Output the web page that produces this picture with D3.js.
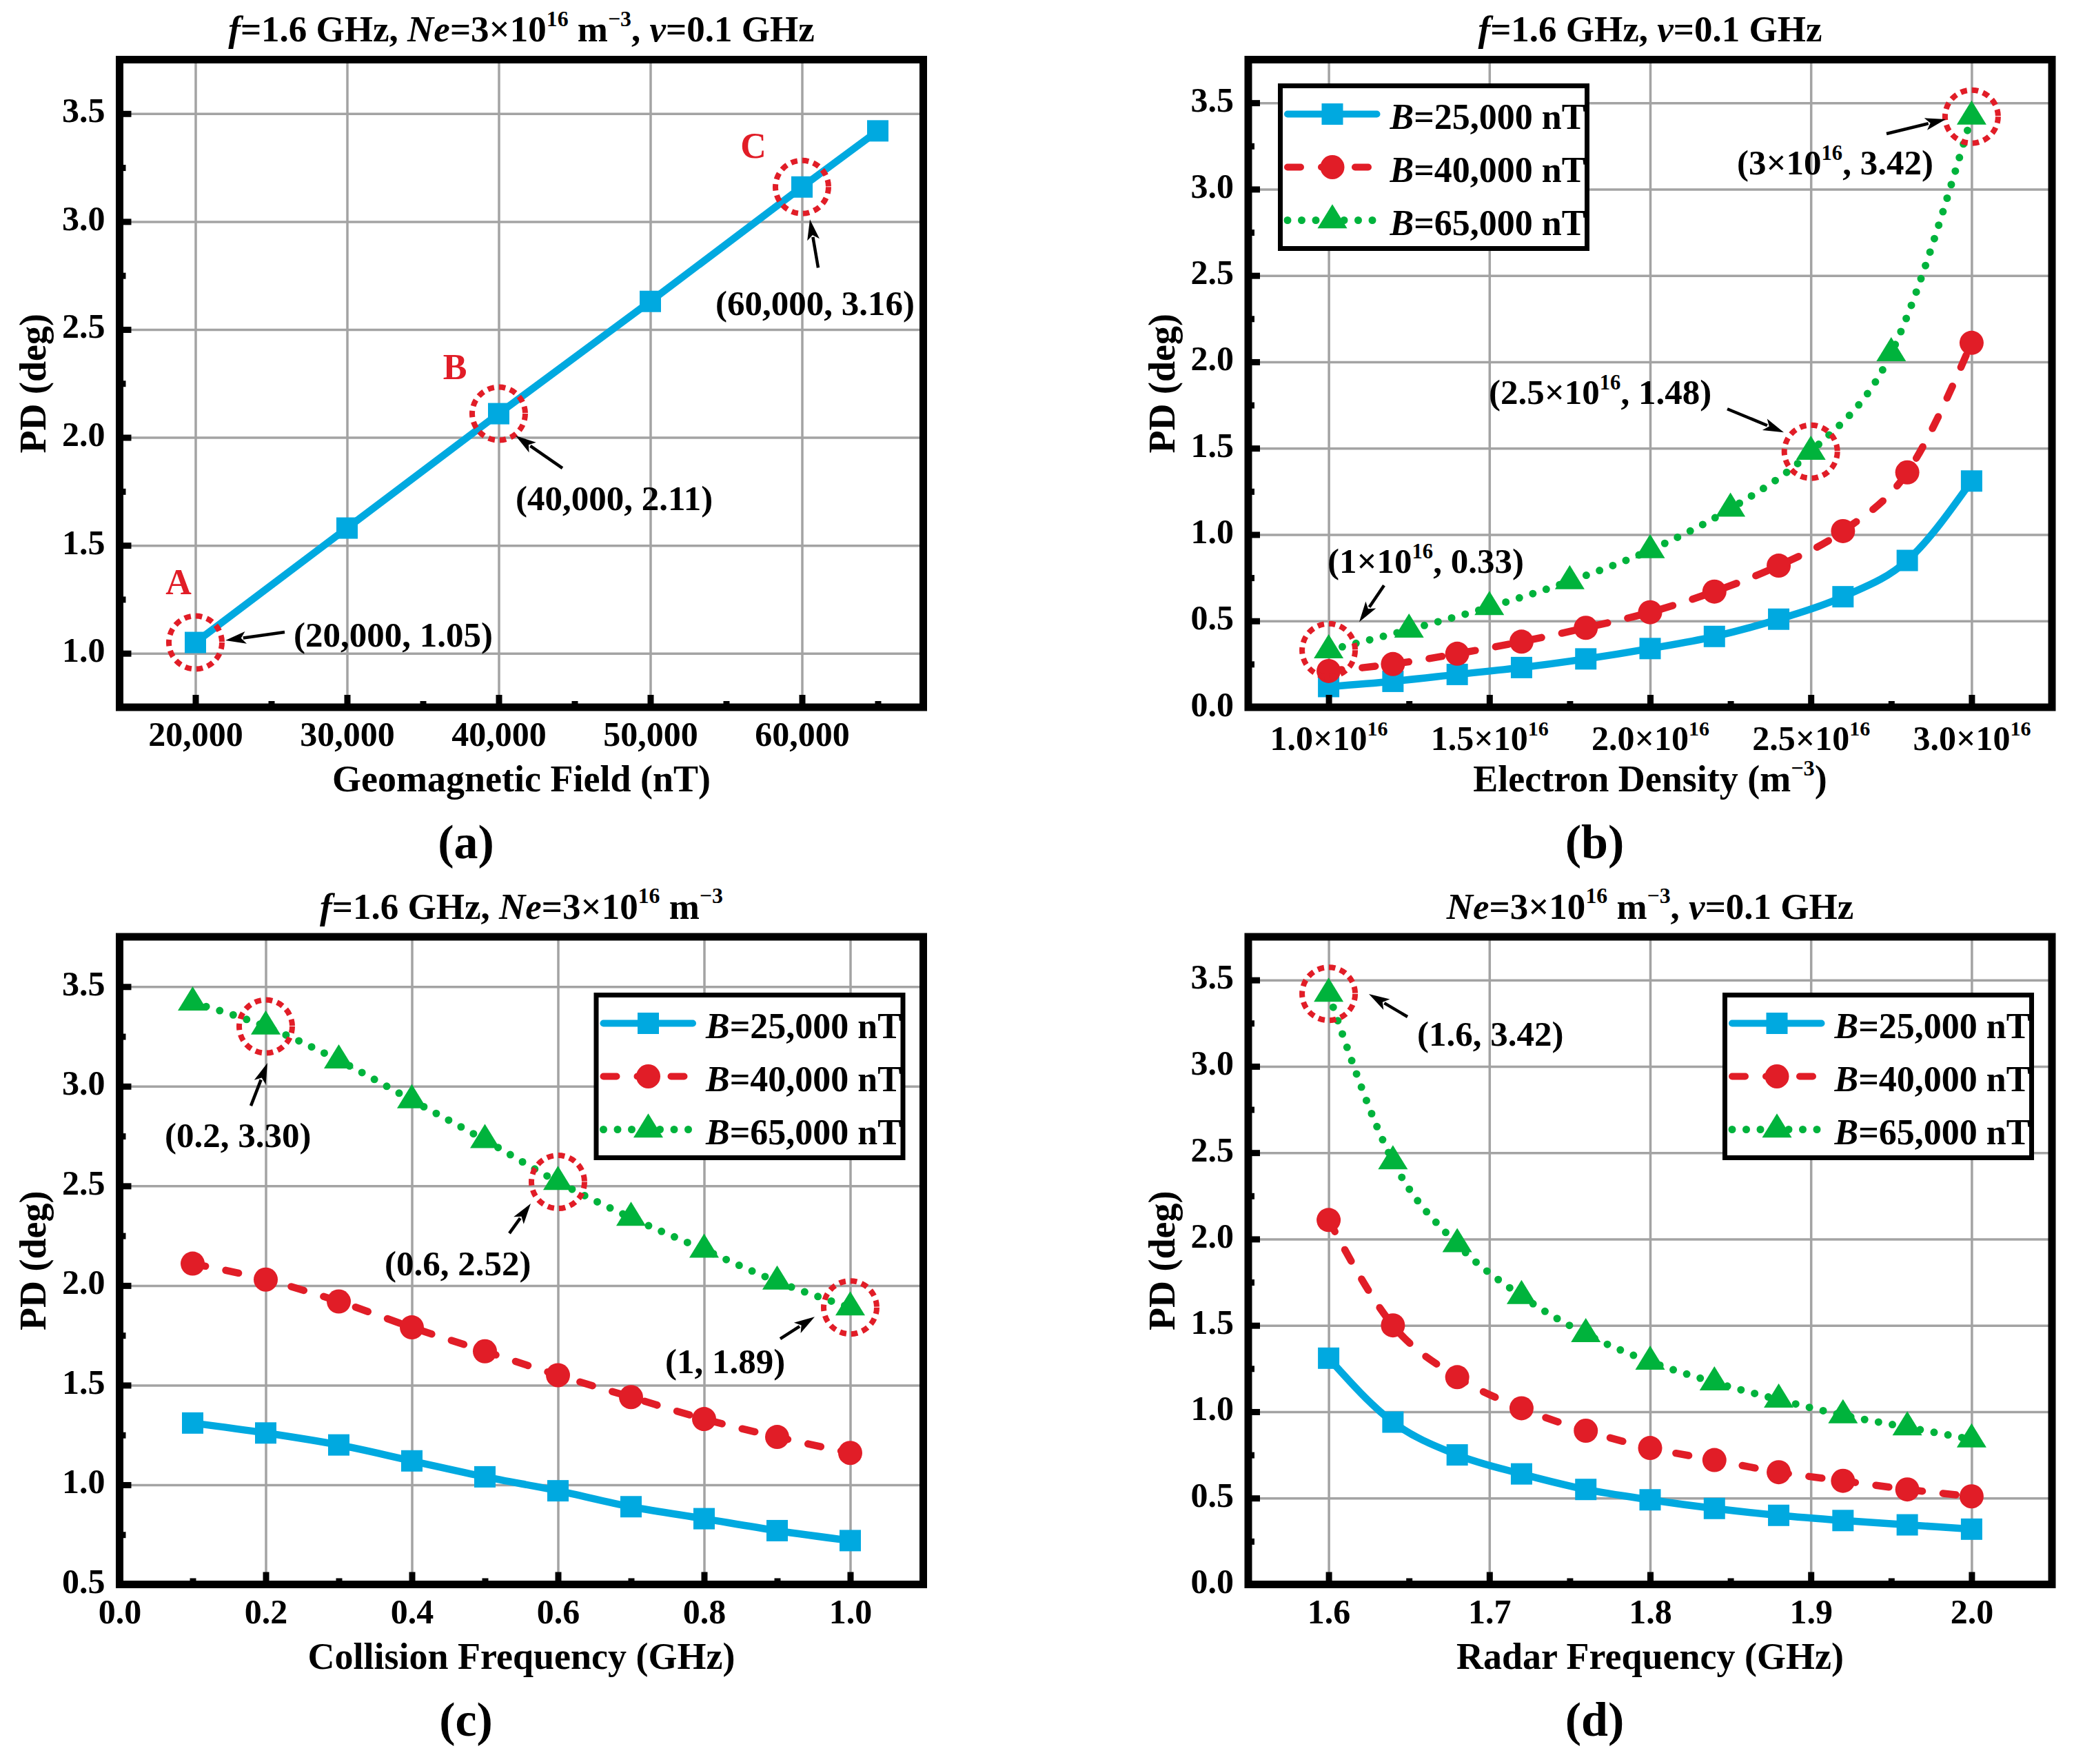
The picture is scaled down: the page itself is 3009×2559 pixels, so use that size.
<!DOCTYPE html>
<html>
<head>
<meta charset="utf-8">
<script src="https://cdn.jsdelivr.net/npm/d3@7"></script>
<style>
  body { margin: 0; background: #fff; }
  svg { display: block; }
  text { font-family: "Liberation Serif", "Times New Roman", serif; font-weight: bold; }
</style>
</head>
<body>
<svg id="fig" width="3009" height="2559"></svg>
<script>
// ---- data ----
const field = [20000, 30000, 40000, 50000, 60000, 65000];
const pdField = [1.05, 1.58, 2.11, 2.63, 3.16, 3.42];

const density = [1.0, 1.2, 1.4, 1.6, 1.8, 2.0, 2.2, 2.4, 2.6, 2.8, 3.0];
const density65 = [1.0, 1.25, 1.5, 1.75, 2.0, 2.25, 2.5, 2.75, 3.0];
const pdDensity25 = [0.12, 0.15, 0.19, 0.23, 0.28, 0.34, 0.41, 0.51, 0.64, 0.85, 1.31];
const pdDensity40 = [0.21, 0.25, 0.31, 0.38, 0.46, 0.55, 0.67, 0.82, 1.02, 1.36, 2.11];
const pdDensity65 = [0.33, 0.45, 0.58, 0.73, 0.91, 1.15, 1.48, 2.05, 3.42];

const collision = [0.1, 0.2, 0.3, 0.4, 0.5, 0.6, 0.7, 0.8, 0.9, 1.0];
const pdCollision25 = [1.31, 1.26, 1.20, 1.12, 1.04, 0.97, 0.89, 0.83, 0.77, 0.72];
const pdCollision40 = [2.11, 2.03, 1.92, 1.79, 1.67, 1.55, 1.44, 1.33, 1.24, 1.16];
const pdCollision65 = [3.42, 3.30, 3.13, 2.93, 2.73, 2.52, 2.34, 2.18, 2.02, 1.89];

const radar = [1.60, 1.64, 1.68, 1.72, 1.76, 1.80, 1.84, 1.88, 1.92, 1.96, 2.00];
const pdRadar25 = [1.31, 0.94, 0.75, 0.64, 0.55, 0.49, 0.44, 0.40, 0.37, 0.345, 0.32];
const pdRadar40 = [2.11, 1.50, 1.20, 1.02, 0.89, 0.79, 0.72, 0.65, 0.60, 0.55, 0.51];
const pdRadar65 = [3.42, 2.45, 1.97, 1.67, 1.45, 1.29, 1.17, 1.07, 0.98, 0.91, 0.84];

const legendLabels = ["=25,000 nT", "=40,000 nT", "=65,000 nT"];

const fieldTicks = [20000, 30000, 40000, 50000, 60000];
const fieldMinor = [25000, 35000, 45000, 55000, 65000];
const densityTicks = [1.0, 1.5, 2.0, 2.5, 3.0];
const densityMinor = [1.25, 1.75, 2.25, 2.75];
const collisionTicks = [0.0, 0.2, 0.4, 0.6, 0.8, 1.0];
const collisionMinor = [0.1, 0.3, 0.5, 0.7, 0.9];
const radarTicks = [1.6, 1.7, 1.8, 1.9, 2.0];
const radarMinor = [1.65, 1.75, 1.85, 1.95];
const pdTicksA = [1.0, 1.5, 2.0, 2.5, 3.0, 3.5];
const pdMinorA = [1.25, 1.75, 2.25, 2.75, 3.25];
const pdTicksB = [0.0, 0.5, 1.0, 1.5, 2.0, 2.5, 3.0, 3.5];
const pdMinorB = [0.25, 0.75, 1.25, 1.75, 2.25, 2.75, 3.25];
const pdTicksC = [0.5, 1.0, 1.5, 2.0, 2.5, 3.0, 3.5];
const pdMinorC = [0.75, 1.25, 1.75, 2.25, 2.75, 3.25];

// ---- styles ----
const BLUE = "#00a9e0", RED = "#e11d27", GREEN = "#00b33c", GRID = "#a3a3a3";
const frame = { x0: 173.5, x1: 1339.5, y0: 86.5, y1: 1026 };
const styles = [
  { color: BLUE, dash: null, marker: "square" },
  { color: RED, dash: "19 30", marker: "circle" },
  { color: GREEN, dash: "0 20.5", marker: "triangle" }
];

const svg = d3.select("#fig");
svg.append("rect").attr("width", 3009).attr("height", 2559).attr("fill", "#fff");

function richText(sel, parts, size) {
  let raised = false;
  parts.forEach(([s, kind]) => {
    const t = sel.append("tspan").text(s);
    if (kind === "sup") {
      t.attr("font-size", size * 0.6);
      if (!raised) { t.attr("dy", -size * 0.42); raised = true; }
    } else {
      if (raised) { t.attr("dy", size * 0.42); raised = false; }
      if (kind === "i") t.attr("font-style", "italic");
    }
  });
}

function drawMarker(g, type, cx, cy, color) {
  if (type === "square") {
    g.append("rect").attr("x", cx - 15.5).attr("y", cy - 15.5)
      .attr("width", 31).attr("height", 31).attr("fill", color);
  } else if (type === "circle") {
    g.append("circle").attr("cx", cx).attr("cy", cy).attr("r", 17.5).attr("fill", color);
  } else {
    const h = 35, w = 21.5;
    g.append("path").attr("fill", color)
      .attr("d", `M${cx},${cy - h * 2 / 3}L${cx + w},${cy + h / 3}L${cx - w},${cy + h / 3}Z`);
  }
}

function arrow(g, sx, sy, tx, ty) {
  const a = Math.atan2(ty - sy, tx - sx), len = 30, hw = 9;
  const bx = tx - len * Math.cos(a), by = ty - len * Math.sin(a);
  g.append("line").attr("x1", sx).attr("y1", sy).attr("x2", bx + 4 * Math.cos(a)).attr("y2", by + 4 * Math.sin(a))
    .attr("stroke", "#000").attr("stroke-width", 4.5);
  g.append("path").attr("fill", "#000")
    .attr("d", `M${tx},${ty}L${bx - hw * Math.sin(a)},${by + hw * Math.cos(a)}L${bx + 7 * Math.cos(a)},${by + 7 * Math.sin(a)}L${bx + hw * Math.sin(a)},${by - hw * Math.cos(a)}Z`);
}

function panel(cfg) {
  const g = svg.append("g").attr("transform", `translate(${cfg.ox},${cfg.oy})`);
  const x = d3.scaleLinear().domain(cfg.xDomain).range([frame.x0, frame.x1]);
  const y = d3.scaleLinear().domain(cfg.yDomain).range([frame.y1, frame.y0]);
  const hgt = frame.y1 - frame.y0, wid = frame.x1 - frame.x0;

  // grid
  const gx = g.append("g").attr("transform", `translate(0,${frame.y1})`)
    .call(d3.axisBottom(x).tickValues(cfg.xTicks).tickSize(-hgt).tickSizeOuter(0).tickFormat(""));
  const gy = g.append("g").attr("transform", `translate(${frame.x0},0)`)
    .call(d3.axisLeft(y).tickValues(cfg.yTicks).tickSize(-wid).tickSizeOuter(0).tickFormat(""));
  [gx, gy].forEach(a => {
    a.select(".domain").remove();
    a.selectAll("line").attr("stroke", GRID).attr("stroke-width", 3.5);
  });

  // series
  const line = d3.line().x(d => x(d[0])).y(d => y(d[1])).curve(cfg.curve);
  cfg.series.forEach(s => {
    const st = styles[s.style];
    const pts = s.xs.map((v, i) => [v, s.ys[i]]);
    g.append("path").datum(pts).attr("d", line).attr("fill", "none")
      .attr("stroke", st.color).attr("stroke-width", s.style === 2 ? 11 : 10.5)
      .attr("stroke-linecap", st.dash ? "round" : "butt")
      .attr("stroke-dasharray", st.dash);
    pts.forEach(p => drawMarker(g, st.marker, x(p[0]), y(p[1]), st.color));
  });

  // frame
  g.append("rect").attr("x", frame.x0).attr("y", frame.y0).attr("width", wid).attr("height", hgt)
    .attr("fill", "none").attr("stroke", "#000").attr("stroke-width", 11);

  // ticks + labels
  const ax = g.append("g").attr("transform", `translate(0,${frame.y1})`)
    .call(d3.axisBottom(x).tickValues(cfg.xTicks).tickSize(-18).tickSizeOuter(0).tickPadding(20).tickFormat(cfg.xFormat));
  const axm = g.append("g").attr("transform", `translate(0,${frame.y1})`)
    .call(d3.axisBottom(x).tickValues(cfg.xMinor).tickSize(-9).tickSizeOuter(0).tickFormat(""));
  const ay = g.append("g").attr("transform", `translate(${frame.x0},0)`)
    .call(d3.axisLeft(y).tickValues(cfg.yTicks).tickSize(-17).tickSizeOuter(0).tickPadding(21).tickFormat(d3.format(".1f")));
  const aym = g.append("g").attr("transform", `translate(${frame.x0},0)`)
    .call(d3.axisLeft(y).tickValues(cfg.yMinor).tickSize(-9).tickSizeOuter(0).tickFormat(""));
  [ax, axm, ay, aym].forEach(a => {
    a.attr("font-family", null).attr("font-size", null);
    a.select(".domain").remove();
    a.selectAll("line").attr("stroke", "#000").attr("stroke-width", 9);
    a.selectAll("text").attr("font-size", 50).attr("fill", "#000");
  });
  ay.selectAll("text").attr("dy", "0.24em");
  ax.selectAll("text").attr("dy", "0.72em");
  if (cfg.xSup) {
    ax.selectAll(".tick text").text(null).each(function (d) {
      richText(d3.select(this), [[d.toFixed(1) + "×10", ""], ["16", "sup"]], 50);
    });
    ax.selectAll(".tick text").attr("dy", "0.84em");
  }

  // titles
  richText(g.append("text").attr("x", (frame.x0 + frame.x1) / 2).attr("y", 60)
    .attr("text-anchor", "middle").attr("font-size", 53), cfg.title, 53);
  richText(g.append("text").attr("x", (frame.x0 + frame.x1) / 2).attr("y", 1148)
    .attr("text-anchor", "middle").attr("font-size", 54), cfg.xLabel, 54);
  g.append("text").attr("transform", `translate(66,${(frame.y0 + frame.y1) / 2}) rotate(-90)`)
    .attr("text-anchor", "middle").attr("font-size", 54).text("PD (deg)");
  g.append("text").attr("x", 676).attr("y", 1245).attr("text-anchor", "middle")
    .attr("font-size", 70).text(cfg.tag);

  // annotations
  cfg.notes.forEach(n => {
    const px = x(n.x), py = y(n.y);
    g.append("circle").attr("cx", px).attr("cy", py).attr("r", 38.5).attr("fill", "none")
      .attr("stroke", RED).attr("stroke-width", 8).attr("stroke-dasharray", "9.5 7");
    arrow(g, px + n.from[0], py + n.from[1], px + n.to[0], py + n.to[1]);
    richText(g.append("text").attr("x", px + n.at[0]).attr("y", py + n.at[1]).attr("font-size", 51), n.text, 51);
    if (n.letter) {
      g.append("text").attr("x", px + n.letterAt[0]).attr("y", py + n.letterAt[1])
        .attr("text-anchor", "middle").attr("font-size", 52).attr("fill", RED).text(n.letter);
    }
  });

  // legend
  if (cfg.legend) {
    const L = cfg.legend;
    const lg = g.append("g");
    lg.append("rect").attr("x", L.left).attr("y", L.top).attr("width", 445).attr("height", 236)
      .attr("fill", "#fff").attr("stroke", "#000").attr("stroke-width", 7);
    legendLabels.forEach((lab, i) => {
      const st = styles[i], cy = L.top + 41 + i * 77;
      lg.append("path").attr("d", `M${L.left + 10.5},${cy}H${L.left + 140}`)
        .attr("stroke", st.color).attr("stroke-width", i === 2 ? 11 : 10)
        .attr("stroke-linecap", "round").attr("stroke-dasharray", st.dash);
      drawMarker(lg, st.marker, L.left + 75.5, cy, st.color);
      richText(lg.append("text").attr("x", L.left + 159).attr("y", cy + 21).attr("font-size", 52),
        [["B", "i"], [lab, ""]], 52);
    });
  }
}

const mono = d3.curveMonotoneX;

panel({
  ox: 0, oy: 0, tag: "(a)", curve: d3.curveLinear,
  xDomain: [15000, 68000], xTicks: fieldTicks, xMinor: fieldMinor, xFormat: d3.format(","),
  yDomain: [0.75, 3.75], yTicks: pdTicksA, yMinor: pdMinorA,
  title: [["f", "i"], ["=1.6 GHz, ", ""], ["Ne", "i"], ["=3×10", ""], ["16", "sup"], [" m", ""], ["−3", "sup"], [", ", ""], ["v", "i"], ["=0.1 GHz", ""]],
  xLabel: [["Geomagnetic Field (nT)", ""]],
  series: [{ xs: field, ys: pdField, style: 0 }],
  notes: [
    { x: 20000, y: 1.05, text: [["(20,000, 1.05)", ""]], at: [142.5, 6], from: [129.5, -15], to: [43.5, -3], letter: "A", letterAt: [-24.5, -70] },
    { x: 40000, y: 2.11, text: [["(40,000, 2.11)", ""]], at: [24.5, 140], from: [92.5, 79], to: [24.5, 32], letter: "B", letterAt: [-63.5, -50] },
    { x: 60000, y: 3.16, text: [["(60,000, 3.16)", ""]], at: [-125.5, 186], from: [23.5, 117], to: [11.5, 47], letter: "C", letterAt: [-70.5, -42] }
  ]
});

panel({
  ox: 1637.5, oy: 0, tag: "(b)", curve: mono,
  xDomain: [0.75, 3.25], xTicks: densityTicks, xMinor: densityMinor, xFormat: d3.format(".1f"), xSup: true,
  yDomain: [0, 3.75], yTicks: pdTicksB, yMinor: pdMinorB,
  title: [["f", "i"], ["=1.6 GHz, ", ""], ["v", "i"], ["=0.1 GHz", ""]],
  xLabel: [["Electron Density (m", ""], ["−3", "sup"], [")", ""]],
  series: [
    { xs: density, ys: pdDensity25, style: 0 },
    { xs: density, ys: pdDensity40, style: 1 },
    { xs: density65, ys: pdDensity65, style: 2 }
  ],
  legend: { left: 220, top: 124.5 },
  notes: [
    { x: 3.0, y: 3.42, text: [["(3×10", ""], ["16", "sup"], [", 3.42)", ""]], at: [-340.4, 83.8], from: [-123.4, 24.8], to: [-37.4, 3.8] },
    { x: 2.5, y: 1.48, text: [["(2.5×10", ""], ["16", "sup"], [", 1.48)", ""]], at: [-467.2, -69], from: [-121.2, -62], to: [-39.2, -28] },
    { x: 1.0, y: 0.33, text: [["(1×10", ""], ["16", "sup"], [", 0.33)", ""]], at: [-1.6, -112], from: [80.4, -94], to: [44.4, -41] }
  ]
});

panel({
  ox: 0, oy: 1272.5, tag: "(c)", curve: mono,
  xDomain: [0, 1.1], xTicks: collisionTicks, xMinor: collisionMinor, xFormat: d3.format(".1f"),
  yDomain: [0.5, 3.75], yTicks: pdTicksC, yMinor: pdMinorC,
  title: [["f", "i"], ["=1.6 GHz, ", ""], ["Ne", "i"], ["=3×10", ""], ["16", "sup"], [" m", ""], ["−3", "sup"]],
  xLabel: [["Collision Frequency (GHz)", ""]],
  series: [
    { xs: collision, ys: pdCollision25, style: 0 },
    { xs: collision, ys: pdCollision40, style: 1 },
    { xs: collision, ys: pdCollision65, style: 2 }
  ],
  legend: { left: 865, top: 171 },
  notes: [
    { x: 0.2, y: 3.30, text: [["(0.2, 3.30)", ""]], at: [-146.5, 175], from: [-21.5, 115], to: [2.5, 53] },
    { x: 0.6, y: 2.52, text: [["(0.6, 2.52)", ""]], at: [-251.5, 135.5], from: [-70.5, 74.5], to: [-39.5, 31.5] },
    { x: 1.0, y: 1.89, text: [["(1, 1.89)", ""]], at: [-268.5, 95.5], from: [-101.5, 45.5], to: [-51.5, 13.5] }
  ]
});

panel({
  ox: 1637.5, oy: 1272.5, tag: "(d)", curve: mono,
  xDomain: [1.55, 2.05], xTicks: radarTicks, xMinor: radarMinor, xFormat: d3.format(".1f"),
  yDomain: [0, 3.75], yTicks: pdTicksB, yMinor: pdMinorB,
  title: [["Ne", "i"], ["=3×10", ""], ["16", "sup"], [" m", ""], ["−3", "sup"], [", ", ""], ["v", "i"], ["=0.1 GHz", ""]],
  xLabel: [["Radar Frequency (GHz)", ""]],
  series: [
    { xs: radar, ys: pdRadar25, style: 0 },
    { xs: radar, ys: pdRadar40, style: 1 },
    { xs: radar, ys: pdRadar65, style: 2 }
  ],
  legend: { left: 865, top: 171 },
  notes: [
    { x: 1.6, y: 3.42, text: [["(1.6, 3.42)", ""]], at: [128.4, 75.3], from: [114.4, 33.3], to: [58.4, 0.3] }
  ]
});
</script>
</body>
</html>
